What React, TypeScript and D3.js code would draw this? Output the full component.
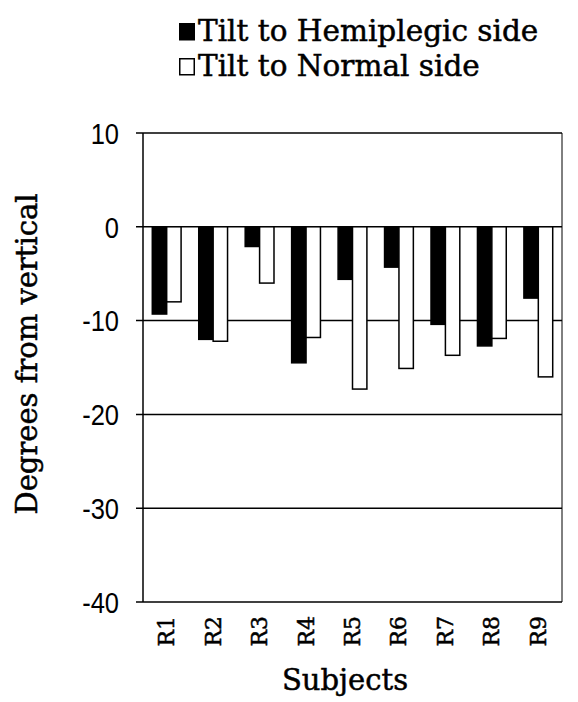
import * as d3 from "d3";

const subjects = ["R1", "R2", "R3", "R4", "R5", "R6", "R7", "R8", "R9"];
const seriesNames = ["Tilt to Hemiplegic side", "Tilt to Normal side"];
const hemiplegic = [-9.3, -12.0, -2.1, -14.5, -5.6, -4.3, -10.4, -12.7, -7.6];
const normal = [-8.0, -12.2, -6.0, -11.8, -17.3, -15.1, -13.7, -11.9, -16.0];
const yTicks = [10, 0, -10, -20, -30, -40];

const W = 578;
const H = 702;
const margin = { top: 133, right: 16, bottom: 100, left: 143 };

const serif = "'DejaVu Serif', 'Liberation Serif', serif";
const sans = "'Liberation Sans', Arial, sans-serif";
// scanned print looks a bit heavier than plain DejaVu Serif
const heavy = { stroke: "#000", strokeWidth: 0.5 };

const App = () => {
  const x0 = d3.scaleBand<string>()
    .domain(subjects)
    .range([margin.left, W - margin.right])
    .paddingInner(0.38)
    .paddingOuter(0.2);
  const x1 = d3.scaleBand<string>()
    .domain(seriesNames)
    .range([0, x0.bandwidth()]);
  const y = d3.scaleLinear()
    .domain([-40, 10])
    .range([H - margin.bottom, margin.top]);

  const rows = subjects.map((s, i) => ({ s, vals: [hemiplegic[i], normal[i]] }));
  const fills = ["#000", "#fff"];
  const left = margin.left;
  const right = W - margin.right;

  return (
    <svg width={W} height={H} style={{ position: "absolute", left: 0, top: 0, background: "#fff" }}>
      {/* legend */}
      {seriesNames.map((name, i) => (
        <g key={name} transform={`translate(179,${23 + i * 35})`}>
          <rect x={0.75} y={0.75} width={14.5} height={16} fill={fills[i]} stroke="#000" strokeWidth={1.5} />
          <text x={19} y={18} fontFamily={serif} fontSize={29.5} fill="#000" {...heavy}>{name}</text>
        </g>
      ))}

      {/* gridlines + ticks */}
      {yTicks.map(t => (
        <g key={t}>
          <line x1={left - 7} x2={right} y1={y(t)} y2={y(t)} stroke="#000" strokeWidth={1.5} />
          <text transform={`translate(119,${y(t)}) scale(0.85,1)`} dy="0.36em" textAnchor="end"
            fontFamily={sans} fontSize={30} fill="#000">{t}</text>
        </g>
      ))}

      {/* bars */}
      {rows.map(r => (
        <g key={r.s} transform={`translate(${x0(r.s)},0)`}>
          {r.vals.map((v, j) => (
            <rect key={j}
              x={(x1(seriesNames[j]) ?? 0)}
              y={y(0)}
              width={x1.bandwidth()}
              height={y(v) - y(0)}
              fill={fills[j]}
              stroke="#000"
              strokeWidth={1.5} />
          ))}
        </g>
      ))}

      {/* axis + border */}
      <line x1={left} x2={left} y1={y(10)} y2={y(-40)} stroke="#000" strokeWidth={1.5} />
      <line x1={right} x2={right} y1={y(10)} y2={y(-40)} stroke="#000" strokeWidth={1} />

      {/* category labels */}
      {subjects.map(s => (
        <text key={s}
          transform={`translate(${(x0(s) ?? 0) + x0.bandwidth() / 2},616) rotate(-90)`}
          textAnchor="end" dominantBaseline="central"
          fontFamily={serif} fontSize={22} fill="#000" {...heavy}>{s}</text>
      ))}

      <text x={345} y={690} textAnchor="middle" fontFamily={serif} fontSize={29} fill="#000" {...heavy}>Subjects</text>
      <text transform={`translate(37,354) rotate(-90)`} textAnchor="middle"
        fontFamily={serif} fontSize={29} fill="#000" {...heavy}>Degrees from vertical</text>
    </svg>
  );
};

export default App;
